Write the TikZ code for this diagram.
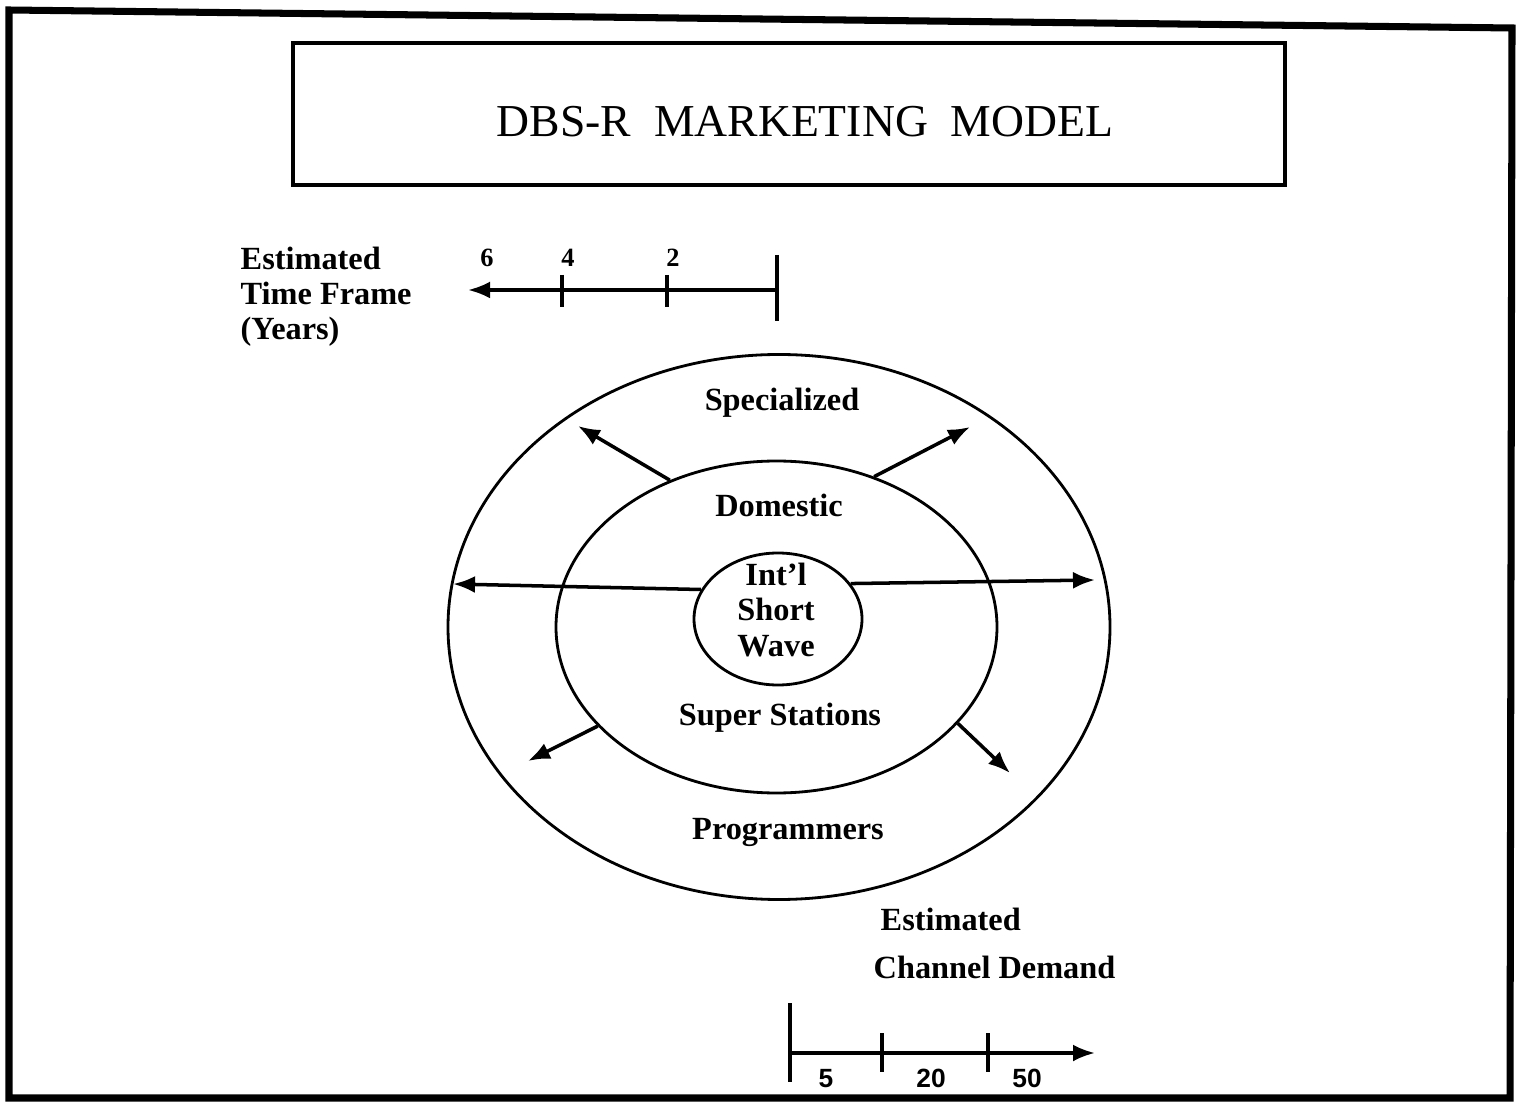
\documentclass[tikz,border=0pt]{standalone}
\usepackage{fontspec}
\setmainfont{Liberation Serif}
\newfontfamily\numfont{Liberation Sans}
\usepackage{tikz}
\usetikzlibrary{shapes,arrows,arrows.meta}

\tikzset{
  ring/.style={draw,ellipse,line width=0.8pt,inner sep=0pt},
  lbl/.style={font=\fontsize{9.2}{10}\selectfont\bfseries,inner sep=0pt},
  num/.style={font=\fontsize{7.5}{8}\selectfont\bfseries,inner sep=0pt},
  sansnum/.style={font=\numfont\fontsize{7.5}{8}\selectfont\bfseries,inner sep=0pt,anchor=base},
  arr/.style={line width=1pt,-{Latex[length=2.2mm,width=1.7mm]}},
  axis/.style={line width=1pt}
}

\begin{document}
\begin{tikzpicture}
\useasboundingbox (0,0) rectangle (15.21,11.08);

% frame
\draw[line width=2pt] (0.09,10.98) -- (15.12,10.80) -- (15.10,0.10) -- (0.09,0.10) -- cycle;

% title
\node[name=Title-Box,draw,line width=1pt,minimum width=9.92cm,minimum height=1.42cm] at (7.89,9.94) {};
\node[name=Title,font=\fontsize{13}{15}\selectfont] at (8.05,9.86) {DBS-R\ \ MARKETING\ \ MODEL};

% time frame scale
\node[name=Time-Label,lbl,align=left,anchor=north west] at (2.40,8.62) {Estimated\\Time Frame\\(Years)};
\coordinate (Time-End) at (7.77,8.18);
\coordinate (Time-Tip) at (4.68,8.18);
\draw[arr] (Time-End) -- (Time-Tip);
\draw[axis] (7.77,8.53) -- (7.77,7.87);
\draw[axis] (5.62,8.33) -- (5.62,8.01);
\draw[axis] (6.67,8.33) -- (6.67,8.01);
\node[name=Year-6,num] at (4.87,8.50) {6};
\node[name=Year-4,num] at (5.68,8.50) {4};
\node[name=Year-2,num] at (6.73,8.50) {2};

% rings
\node[name=Outer-Ring,ring,minimum width=6.62cm,minimum height=5.45cm] at (7.79,4.81) {};
\node[name=Middle-Ring,ring,minimum width=4.41cm,minimum height=3.32cm] at (7.765,4.81) {};
\node[name=Inner-Ring,ring,minimum width=1.68cm,minimum height=1.32cm] at (7.78,4.89) {};

\node[name=Specialized,lbl] at (7.82,7.05) {Specialized};
\node[name=Domestic,lbl] at (7.79,6.03) {Domestic};
\node[name=Short-Wave,lbl,align=center] at (7.76,4.98) {Int'l\\Short\\Wave};
\node[name=Super-Stations,lbl] at (7.80,3.90) {Super Stations};
\node[name=Programmers,lbl] at (7.88,2.76) {Programmers};

% growth arrows
\coordinate (Left-Tip) at (4.53,5.24);
\coordinate (Right-Tip) at (10.95,5.28);
\coordinate (Upper-Left-Tip) at (5.78,6.82);
\coordinate (Upper-Right-Tip) at (9.70,6.81);
\coordinate (Lower-Left-Tip) at (5.28,3.47);
\coordinate (Lower-Right-Tip) at (10.10,3.35);

\draw[arr] (Inner-Ring.159) -- (Left-Tip);
\draw[arr] (Inner-Ring.26) -- (Right-Tip);
\draw[arr] (Middle-Ring.126) -- (Upper-Left-Tip);
\draw[arr] (Middle-Ring.57) -- (Upper-Right-Tip);
\draw[arr] (Middle-Ring.209) -- (Lower-Left-Tip);
\draw[arr] (Middle-Ring.332) -- (Lower-Right-Tip);

% channel demand scale
\node[name=Demand-Label-1,lbl,anchor=base west] at (8.80,1.78) {Estimated};
\node[name=Demand-Label-2,lbl,anchor=base west] at (8.73,1.30) {Channel Demand};
\coordinate (Demand-Start) at (7.90,0.55);
\coordinate (Demand-Tip) at (10.95,0.55);
\draw[arr] (Demand-Start) -- (Demand-Tip);
\draw[axis] (7.90,1.05) -- (7.90,0.26);
\draw[axis] (8.82,0.75) -- (8.82,0.36);
\draw[axis] (9.88,0.75) -- (9.88,0.36);
\node[name=Demand-5,sansnum] at (8.26,0.21) {5};
\node[name=Demand-20,sansnum] at (9.31,0.21) {20};
\node[name=Demand-50,sansnum] at (10.27,0.21) {50};
\end{tikzpicture}
\end{document}
